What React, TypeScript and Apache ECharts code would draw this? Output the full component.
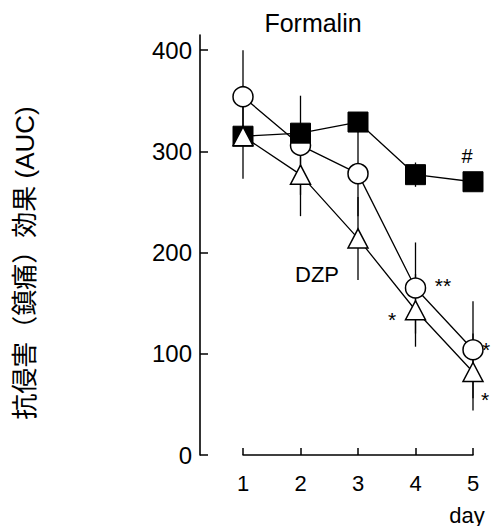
import React, { useEffect, useRef } from "react";
import * as echarts from "echarts";

const days = [1, 2, 3, 4, 5];
const yTicks = [0, 100, 200, 300, 400];
const circleMean = [354, 306, 278, 165, 104];
const circleErr = [46, 49, 42, 45, 48];
const squareMean = [315, 318, 329, 277, 270];
const squareErr = [8, 10, 10, 12, 8];
const triangleMean = [315, 277, 214, 143, 82];
const triangleErr = [42, 41, 41, 36, 38];

const FONT = "'Liberation Sans', Arial, 'Noto Sans CJK JP', sans-serif";

function errData(mean: number[], err: number[]) {
  return days.map((d, i) => [d, mean[i] - err[i], mean[i] + err[i]]);
}

function errSeries(mean: number[], err: number[], z: number) {
  return {
    type: "custom",
    z,
    silent: true,
    encode: { x: 0, y: [1, 2] },
    data: errData(mean, err),
    renderItem: (params: any, api: any) => {
      const x = api.value(0);
      const p1 = api.coord([x, api.value(1)]);
      const p2 = api.coord([x, api.value(2)]);
      return {
        type: "line",
        shape: { x1: p1[0], y1: p1[1], x2: p2[0], y2: p2[1] },
        style: { stroke: "#000", lineWidth: 1.3 },
      };
    },
  };
}

function txt(text: string, x: number, y: number, size: number, align = "center", extra: any = {}) {
  return {
    type: "text",
    x,
    y,
    z: 100,
    style: {
      text,
      fill: "#000",
      font: `${size}px ${FONT}`,
      textAlign: align,
      textVerticalAlign: "middle",
    },
    ...extra,
  };
}

export default function App() {
  const ref = useRef<HTMLDivElement>(null);
  useEffect(() => {
    if (!ref.current) return;
    const chart = echarts.init(ref.current, undefined, { renderer: "svg" });
    chart.setOption({
      animation: false,
      backgroundColor: "#fff",
      textStyle: { fontFamily: FONT },
      grid: { left: 243, right: 20, top: 35, bottom: 71, containLabel: false },
      xAxis: {
        type: "value",
        min: 1,
        max: 5,
        interval: 1,
        axisLine: { onZero: false, lineStyle: { color: "#000", width: 1.5 } },
        axisTick: { inside: true, length: 7, lineStyle: { color: "#000", width: 1.5 } },
        axisLabel: { color: "#000", fontSize: 22, margin: 17, fontFamily: FONT },
        splitLine: { show: false },
      },
      yAxis: {
        type: "value",
        min: 0,
        max: 415,
        interval: 100,
        offset: 43,
        axisLine: { show: true, lineStyle: { color: "#000", width: 1.6 } },
        axisTick: {
          show: true,
          inside: true,
          length: 8,
          customValues: yTicks,
          lineStyle: { color: "#000", width: 1.5 },
        },
        axisLabel: {
          color: "#000",
          fontSize: 24,
          margin: 8,
          fontFamily: FONT,
          customValues: yTicks,
          formatter: (v: number) => (v % 100 === 0 ? String(v) : ""),
        },
        splitLine: { show: false },
      },
      series: [
        errSeries(circleMean, circleErr, 1),
        errSeries(squareMean, squareErr, 1),
        errSeries(triangleMean, triangleErr, 1),
        {
          type: "line",
          z: 2,
          data: days.map((d, i) => [d, circleMean[i]]),
          symbol: "circle",
          symbolSize: 20,
          showSymbol: true,
          lineStyle: { color: "#000", width: 1.3 },
          itemStyle: { color: "#fff", borderColor: "#000", borderWidth: 1.5 },
        },
        {
          type: "line",
          z: 3,
          data: days.map((d, i) => [d, squareMean[i]]),
          symbol: "rect",
          symbolSize: 20,
          showSymbol: true,
          lineStyle: { color: "#000", width: 1.3 },
          itemStyle: { color: "#000", borderColor: "#000", borderWidth: 1 },
        },
        {
          type: "line",
          z: 4,
          data: days.map((d, i) => [d, triangleMean[i]]),
          symbol: "triangle",
          symbolSize: [20, 19],
          showSymbol: true,
          lineStyle: { color: "#000", width: 1.3 },
          itemStyle: { color: "#fff", borderColor: "#000", borderWidth: 1.5 },
        },
      ],
      graphic: [
        txt("Formalin", 313, 23, 25),
        txt("DZP", 317, 274, 22),
        txt("**", 443, 285, 21),
        txt("*", 392, 319, 21),
        txt("#", 467, 156, 20),
        txt("*", 482, 349, 21, "left"),
        txt("*", 481, 399, 21, "left"),
        txt("day", 467, 515, 22),
        txt("抗侵害（鎮痛）効果 (AUC)", 25, 263, 26, "center", { rotation: Math.PI / 2 }),
      ],
    });
    return () => chart.dispose();
  }, []);
  return (
    <div
      ref={ref}
      style={{ position: "fixed", left: 0, top: 0, width: 493, height: 526, background: "#fff" }}
    />
  );
}
